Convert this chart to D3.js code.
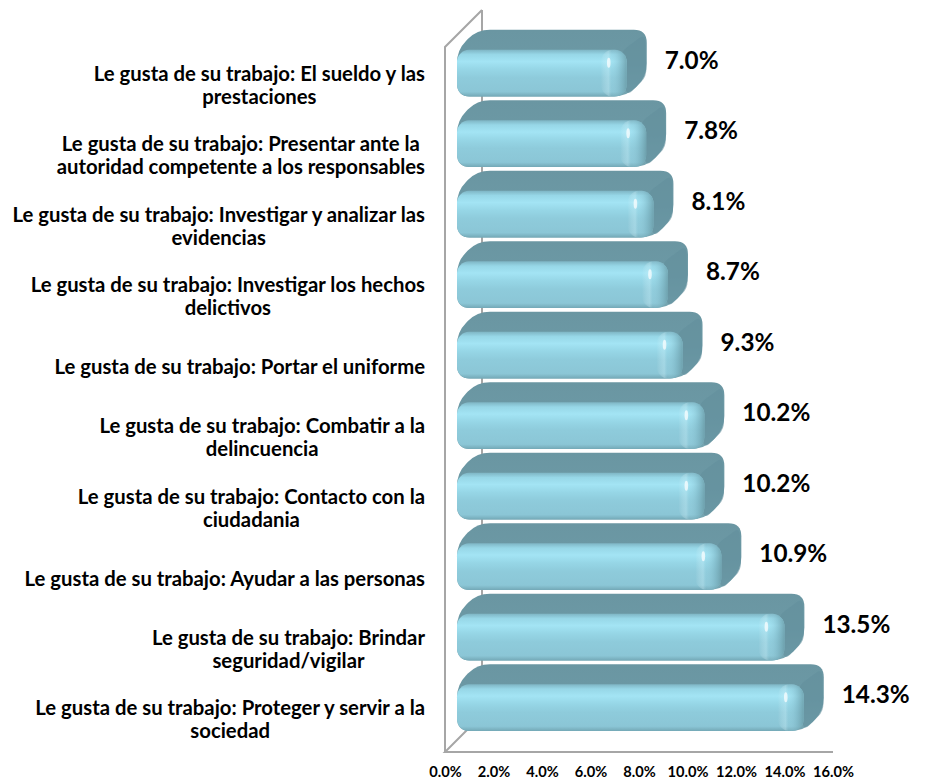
<!DOCTYPE html>
<html>
<head>
<meta charset="utf-8">
<script src="https://cdn.jsdelivr.net/npm/d3@7/dist/d3.min.js"></script>
<style>
  body { margin: 0; background: #fff; }
  svg { display: block; }
  text { font-family: Lato, "Open Sans", sans-serif; font-weight: bold; fill: #000; }
</style>
</head>
<body>
<div id="chart"></div>
<script>
// data (top bar first)
var categories = [
  ["Le gusta de su trabajo: El sueldo y las", "prestaciones"],
  ["Le gusta de su trabajo: Presentar ante la", "autoridad competente a los responsables"],
  ["Le gusta de su trabajo: Investigar y analizar las", "evidencias"],
  ["Le gusta de su trabajo: Investigar los hechos", "delictivos"],
  ["Le gusta de su trabajo: Portar el uniforme"],
  ["Le gusta de su trabajo: Combatir a la", "delincuencia"],
  ["Le gusta de su trabajo: Contacto con la", "ciudadania"],
  ["Le gusta de su trabajo: Ayudar a las personas"],
  ["Le gusta de su trabajo: Brindar", "seguridad/vigilar"],
  ["Le gusta de su trabajo: Proteger y servir a la", "sociedad"]
];
var values = [7.0, 7.8, 8.1, 8.7, 9.3, 10.2, 10.2, 10.9, 13.5, 14.3];
var ticks = [0, 2, 4, 6, 8, 10, 12, 14, 16];

var width = 925, height = 780;

var svg = d3.select("#chart")
	.append("svg")
	.attr("width", width)
	.attr("height", height);

// front plane of the 3d box
var frame = { left: 445, right: 833, top: 47, bottom: 752, depth: 37 };
var off = 12;   // bars sit a bit behind the front plane
var dd = 20;    // bar depth

var x = d3.scaleLinear().domain([0, 16]).range([frame.left, frame.right]);
var y = d3.scaleBand()
	.domain(d3.range(values.length))
	.range([frame.top, frame.bottom])
	.paddingInner(0.34)
	.paddingOuter(0.17)
	.align(0.62);
var bw = y.bandwidth();

// measure a string to pick a font size that matches the picture widths
function fitSize(str, target) {
	var t = svg.append("text").attr("font-size", 100).text(str);
	var w = t.node().getComputedTextLength();
	t.remove();
	return 100 * target / w;
}
var catSize = fitSize("Le gusta de su trabajo: Proteger y servir a la", 390);
var valSize = fitSize("14.3%", 68);
var tickSize = fitSize("10.0%", 41);

var defs = svg.append("defs");
var fg = defs.append("linearGradient").attr("id", "front").attr("x1", 0).attr("y1", 0).attr("x2", 0).attr("y2", 1);
[[0, "#7fb6c5"], [0.1, "#97d7e7"], [0.25, "#a3e4f4"], [0.42, "#96d6e6"], [0.6, "#8ecbdb"], [0.9, "#8bc6d6"], [1, "#74a9b7"]]
	.forEach(function (s) { fg.append("stop").attr("offset", s[0]).attr("stop-color", s[1]); });

var tg = defs.append("linearGradient").attr("id", "top").attr("x1", 0).attr("y1", 0).attr("x2", 0).attr("y2", 1);
[[0, "#6a96a2"], [0.5, "#6c99a5"], [1, "#76a6b2"]]
	.forEach(function (s) { tg.append("stop").attr("offset", s[0]).attr("stop-color", s[1]); });

var eg = defs.append("linearGradient").attr("id", "bevel").attr("x1", 0).attr("y1", 0).attr("x2", 1).attr("y2", 0);
[[0, "#ffffff", 0], [0.3, "#d8f6fd", 0.3], [0.42, "#9fd6e4", 0.15], [0.75, "#78aebc", 0.5], [1, "#64949f", 0.75]]
	.forEach(function (s) { eg.append("stop").attr("offset", s[0]).attr("stop-color", s[1]).attr("stop-opacity", s[2]); });

// polygon with rounded corners
function roundedPath(pts, r) {
	var n = pts.length, d = "";
	for (var i = 0; i < n; i++) {
		var p0 = pts[(i - 1 + n) % n], p1 = pts[i], p2 = pts[(i + 1) % n];
		var l1 = Math.hypot(p0[0] - p1[0], p0[1] - p1[1]);
		var l2 = Math.hypot(p2[0] - p1[0], p2[1] - p1[1]);
		var rr = Math.min(r, l1 / 2, l2 / 2);
		var a = [p1[0] + (p0[0] - p1[0]) / l1 * rr, p1[1] + (p0[1] - p1[1]) / l1 * rr];
		var b = [p1[0] + (p2[0] - p1[0]) / l2 * rr, p1[1] + (p2[1] - p1[1]) / l2 * rr];
		d += (i == 0 ? "M" : "L") + a[0] + "," + a[1] + "Q" + p1[0] + "," + p1[1] + " " + b[0] + "," + b[1];
	}
	return d + "Z";
}

// walls and floor
var wall = svg.append("g")
	.attr("fill", "none")
	.attr("stroke", "#a6a6a6")
	.attr("stroke-width", 2);
wall.append("line")
	.attr("x1", frame.left + frame.depth).attr("x2", frame.left + frame.depth)
	.attr("y1", frame.top - frame.depth).attr("y2", frame.bottom - frame.depth);
wall.append("path")
	.attr("d", "M" + frame.left + "," + frame.bottom + "L" + frame.left + "," + frame.top +
		"L" + (frame.left + frame.depth) + "," + (frame.top - frame.depth));
wall.append("path")
	.attr("d", "M" + frame.right + "," + frame.bottom + "L" + frame.left + "," + frame.bottom +
		"L" + (frame.left + frame.depth) + "," + (frame.bottom - frame.depth));

// bars
var bar = svg.selectAll(".bar")
	.data(values)
	.enter()
	.append("g")
	.attr("class", "bar");

function geo(d, i) {
	var X0 = x(0) + off, X1 = x(d) + off, Yt = y(i) - off, Yb = Yt + bw;
	return { X0: X0, X1: X1, Yt: Yt, Yb: Yb };
}

bar.append("path")
	.attr("fill", "url(#top)")
	.attr("d", function (d, i) {
		var g = geo(d, i);
		return roundedPath([[g.X0, g.Yb], [g.X0, g.Yt], [g.X0 + dd, g.Yt - dd], [g.X1 + dd, g.Yt - dd],
			[g.X1 + dd, g.Yb - dd], [g.X1, g.Yb]], 13);
	});

bar.append("path")
	.attr("fill", "#63909c")
	.attr("opacity", 0.6)
	.attr("d", function (d, i) {
		var g = geo(d, i);
		return roundedPath([[g.X1 - 6, g.Yt + 2], [g.X1 + dd - 2, g.Yt - dd + 4], [g.X1 + dd, g.Yb - dd],
			[g.X1, g.Yb]], 8);
	});

bar.append("rect")
	.attr("fill", "url(#front)")
	.attr("x", function (d, i) { return geo(d, i).X0; })
	.attr("y", function (d, i) { return geo(d, i).Yt; })
	.attr("width", function (d, i) { return geo(d, i).X1 - geo(d, i).X0; })
	.attr("height", bw)
	.attr("rx", 12);

bar.append("rect")
	.attr("fill", "url(#bevel)")
	.attr("x", function (d, i) { return geo(d, i).X1 - 26; })
	.attr("y", function (d, i) { return geo(d, i).Yt; })
	.attr("width", 26)
	.attr("height", bw)
	.attr("rx", 12);

bar.append("ellipse")
	.attr("fill", "#ffffff")
	.attr("opacity", 0.7)
	.attr("cx", function (d, i) { return geo(d, i).X1 - 18; })
	.attr("cy", function (d, i) { return geo(d, i).Yt + 13; })
	.attr("rx", 1.8)
	.attr("ry", 5);

// value labels
svg.selectAll(".value")
	.data(values)
	.enter()
	.append("text")
	.attr("class", "value")
	.attr("font-size", valSize)
	.attr("x", function (d) { return x(d) + 50; })
	.attr("y", function (d, i) { return y(i) - off + (bw - dd) / 2 - 3; })
	.attr("dy", "0.36em")
	.text(function (d) { return d.toFixed(1) + "%"; });

// category labels, each block right aligned with its lines centred
var cat = svg.selectAll(".cat")
	.data(categories)
	.enter()
	.append("text")
	.attr("class", "cat")
	.attr("font-size", catSize)
	.attr("text-anchor", "middle");

cat.each(function (lines, i) {
	var t = d3.select(this);
	var cy = y(i) + bw / 2;
	lines.forEach(function (s, k) {
		t.append("tspan")
			.attr("y", cy + (k - (lines.length - 1) / 2) * 23)
			.attr("dy", "0.36em")
			.text(s);
	});
	var maxW = d3.max(t.selectAll("tspan").nodes(), function (n) { return n.getComputedTextLength(); });
	t.selectAll("tspan").attr("x", 425 - maxW / 2);
});

// x axis labels
var axis = svg.append("g")
	.attr("transform", "translate(0," + frame.bottom + ")")
	.call(d3.axisBottom(x).tickValues(ticks).tickSize(0).tickPadding(15)
		.tickFormat(function (d) { return d.toFixed(1) + "%"; }));
axis.select(".domain").remove();
axis.selectAll("text")
	.attr("font-size", tickSize)
	.attr("font-family", "Lato, sans-serif")
	.attr("font-weight", "bold")
	.attr("fill", "#000");
</script>
</body>
</html>
